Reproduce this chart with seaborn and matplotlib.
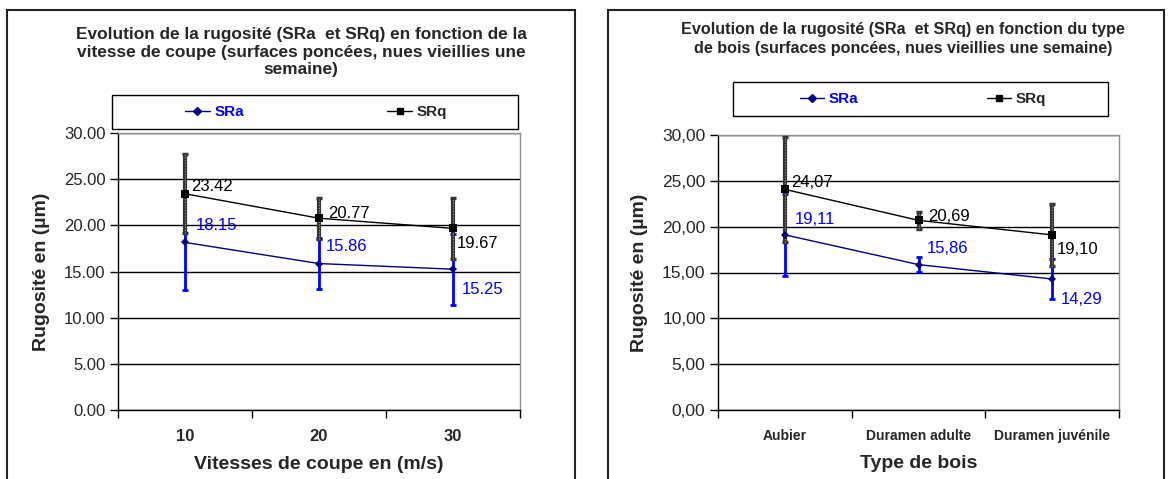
import numpy as np
import pandas as pd
import matplotlib
matplotlib.use("Agg")
import matplotlib.pyplot as plt
from matplotlib.patches import Rectangle
from matplotlib.lines import Line2D
import seaborn as sns

# --- data ---
vitesses = ["10", "20", "30"]
sra_vit = [18.15, 15.86, 15.25]
srq_vit = [23.42, 20.77, 19.67]
sra_vit_err = [5.1, 2.8, 3.85]
srq_vit_err = [4.3, 2.2, 3.3]

bois = ["Aubier", "Duramen adulte", "Duramen juvénile"]
sra_bois = [19.11, 15.86, 14.29]
srq_bois = [24.07, 20.69, 19.10]
sra_bois_err = [4.5, 0.8, 2.2]
srq_bois_err = [5.7, 0.9, 3.4]

yticks = [0, 5, 10, 15, 20, 25, 30]

sns.set_theme(style="white")
plt.rcParams["font.family"] = ["Liberation Sans", "DejaVu Sans"]

fig = plt.figure(figsize=(11.76, 4.79), dpi=100)
W, H = 1176, 479

def fx(px):
    return px / W

def fy(py):
    return 1 - py / H

# outer chart boxes (cut off at the bottom like the original)
for x0, x1 in [(7, 575), (608, 1164)]:
    fig.patches.append(Rectangle((fx(x0), fy(490)), fx(x1) - fx(x0), fy(10) - fy(490),
                                 transform=fig.transFigure, fill=False,
                                 edgecolor="#222222", linewidth=1.5))

BLUE = "#0000ff"
NAVY = "#000080"


def draw(ax, cats, sra, srq, sra_err, srq_err, sep, lab_offsets, cat_size, tick_size):
    df = pd.DataFrame({
        "cat": cats * 2,
        "val": sra + srq,
        "serie": ["SRa"] * len(cats) + ["SRq"] * len(cats),
    })
    pos = np.arange(len(cats))
    ax.errorbar(pos, sra, yerr=sra_err, fmt="none", ecolor=BLUE, elinewidth=2,
                capsize=2.5, capthick=2, zorder=3)
    ax.errorbar(pos, srq, yerr=srq_err, fmt="none", ecolor="#333333", elinewidth=3,
                capsize=2.3, capthick=2.5, zorder=4)
    # dotted texture of the SRq bars
    ax.vlines(pos, np.array(srq) - np.array(srq_err), np.array(srq) + np.array(srq_err),
              colors="#9a9a9a", linewidth=0.8, linestyles=(0, (1, 1.5)), zorder=4.5)
    sns.lineplot(data=df, x="cat", y="val", hue="serie", style="serie",
                 palette={"SRa": NAVY, "SRq": "black"},
                 markers={"SRa": "D", "SRq": "s"}, dashes=False,
                 markersize=5, linewidth=1, markeredgewidth=0,
                 sort=False, legend=False, ax=ax, zorder=5)
    for ln in ax.lines:
        if ln.get_marker() == "s":
            ln.set_markersize(5.5)
        elif ln.get_marker() == "D":
            ln.set_markersize(4.5)

    for i in range(len(cats)):
        (dxq, dyq), (dxa, dya) = lab_offsets[i]
        ax.annotate(f"{srq[i]:.2f}".replace(".", sep), (pos[i], srq[i]),
                    xytext=(dxq, dyq), textcoords="offset pixels",
                    ha="left", va="center", fontsize=12, color="black", zorder=6)
        ax.annotate(f"{sra[i]:.2f}".replace(".", sep), (pos[i], sra[i]),
                    xytext=(dxa, dya), textcoords="offset pixels",
                    ha="left", va="center", fontsize=12, color=BLUE, zorder=6)

    ax.set_ylim(0, 30)
    ax.set_xlim(-0.5, len(cats) - 0.5)
    ax.set_yticks(yticks)
    ax.set_yticklabels([f"{v:.2f}".replace(".", sep) for v in yticks], fontsize=tick_size)
    ax.yaxis.grid(True, color="black", linewidth=1)
    ax.set_axisbelow(True)
    ax.set_xticks(pos)
    ax.set_xticklabels(cats, fontsize=cat_size, fontweight="bold")
    ax.tick_params(axis="x", length=0, pad=14)
    ax.set_xticks(np.arange(len(cats) + 1) - 0.5, minor=True)
    ax.tick_params(axis="x", which="minor", length=6, color="black", width=1,
                   direction="out", bottom=True)
    ax.tick_params(axis="y", length=6, color="black", width=1, direction="out",
                   left=True, pad=3)
    for s in ["left", "bottom"]:
        ax.spines[s].set_color("black")
        ax.spines[s].set_linewidth(1)
    for s in ["top", "right"]:
        ax.spines[s].set_color("#909090")
        ax.spines[s].set_linewidth(1)
    ax.set_ylabel("Rugosité en (µm)", fontsize=14, fontweight="bold", labelpad=10)


ax1 = fig.add_axes([fx(118), fy(410), fx(520) - fx(118), fy(133) - fy(410)])
draw(ax1, vitesses, sra_vit, srq_vit, sra_vit_err, srq_vit_err, ".",
     [((6, 7), (11, 17)), ((9, 5), (7, 17)), ((4, -15), (9, -20))], 12, 12)
ax1.set_xlabel("Vitesses de coupe en (m/s)", fontsize=14, fontweight="bold", labelpad=8)

ax2 = fig.add_axes([fx(718), fy(410), fx(1119) - fx(718), fy(135) - fy(410)])
draw(ax2, bois, sra_bois, srq_bois, sra_bois_err, srq_bois_err, ",",
     [((6, 7), (10, 15)), ((10, 4), (8, 16)), ((5, -15), (9, -20))], 10, 12.5)
ax2.set_xlabel("Type de bois", fontsize=14, fontweight="bold", labelpad=8)

# titles
fig.text(fx(301), fy(52), "Evolution de la rugosité (SRa  et SRq) en fonction de la\n"
         "vitesse de coupe (surfaces poncées, nues vieillies une\nsemaine)",
         ha="center", va="center", fontsize=12.4, fontweight="bold", linespacing=1.22)
fig.text(fx(903), fy(39), "Evolution de la rugosité (SRa  et SRq) en fonction du type\n"
         "de bois (surfaces poncées, nues vieillies une semaine)",
         ha="center", va="center", fontsize=11.6, fontweight="bold", linespacing=1.3)

# legends: frame drawn as rectangle, entries as legend
for (bx0, by0, bx1, by1), cx, cs in [((112, 95, 518, 129), 316, 9.4),
                                     ((733, 82, 1108, 116), 923, 8.4)]:
    fig.patches.append(Rectangle((fx(bx0), fy(by1)), fx(bx1) - fx(bx0), fy(by0) - fy(by1),
                                 transform=fig.transFigure, fill=False,
                                 edgecolor="black", linewidth=1))
    handles = [Line2D([], [], color=NAVY, marker="D", markersize=4, lw=1),
               Line2D([], [], color="black", marker="s", markersize=5, lw=1)]
    leg = fig.legend(handles, ["SRa", "SRq"], loc="center",
                     bbox_to_anchor=(fx(cx), fy((by0 + by1) / 2)), ncol=2,
                     frameon=False, prop={"weight": "bold", "size": 11},
                     handlelength=1.6, handletextpad=0.3, columnspacing=cs)
    leg.get_texts()[0].set_color(BLUE)

fig.savefig("out.png", dpi=100)
